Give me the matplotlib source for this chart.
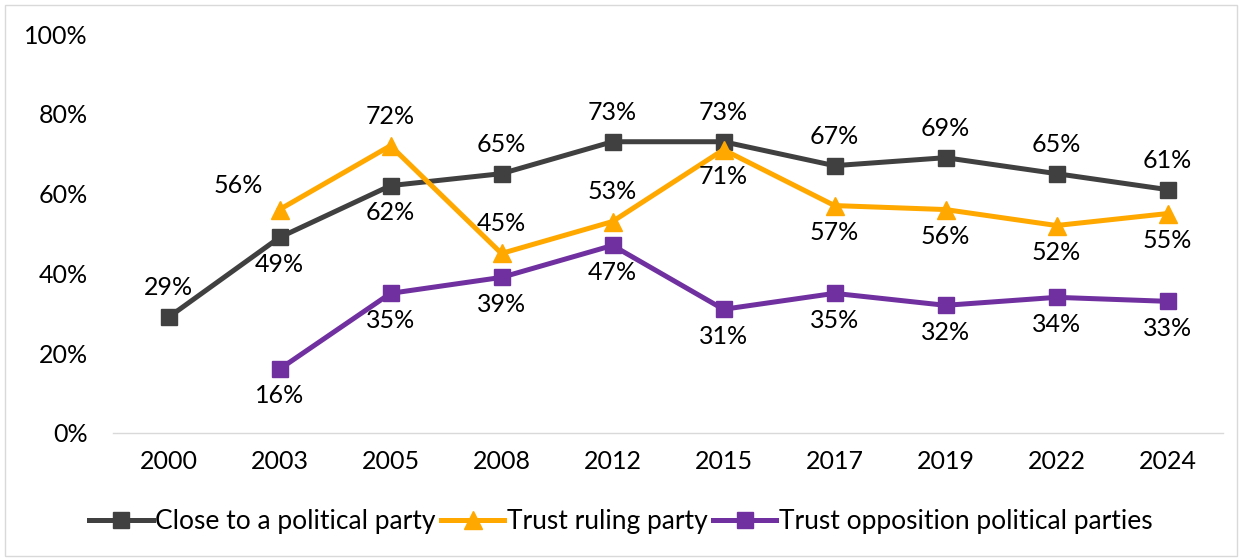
import numpy as np
import matplotlib.pyplot as plt

plt.rcParams['font.family'] = ['Lato', 'DejaVu Sans']

years = ['2000', '2003', '2005', '2008', '2012', '2015', '2017', '2019', '2022', '2024']
close_party = [29, 49, 62, 65, 73, 73, 67, 69, 65, 61]
trust_ruling = [None, 56, 72, 45, 53, 71, 57, 56, 52, 55]
trust_opposition = [None, 16, 35, 39, 47, 31, 35, 32, 34, 33]

# label placement: 'a' above, 'b' below, 'l' above-left
close_pos = ['a', 'b', 'b', 'a', 'a', 'a', 'a', 'a', 'a', 'a']
ruling_pos = [None, 'l', 'a', 'a', 'a', 'b', 'b', 'b', 'b', 'b']
opp_pos = [None, 'b', 'b', 'b', 'b', 'b', 'b', 'b', 'b', 'b']

FS = 18

fig = plt.figure(figsize=(12.42, 5.58), dpi=100)
ax = fig.add_axes([113 / 1242, 1 - 433 / 558, 1110 / 1242, 399 / 558])

x = np.arange(len(years))

def draw(vals, pos, color, marker, label, ms):
    xs = [i for i, v in enumerate(vals) if v is not None]
    ys = [v for v in vals if v is not None]
    ax.plot(xs, ys, color=color, lw=3.6, marker=marker, ms=ms, label=label,
            solid_joinstyle='miter')
    for i in xs:
        v = vals[i]
        p = pos[i]
        if p == 'a':
            ax.annotate(f'{v}%', (i, v), xytext=(0, 13), textcoords='offset points',
                        ha='center', va='bottom', fontsize=FS)
        elif p == 'b':
            ax.annotate(f'{v}%', (i, v), xytext=(0, -11), textcoords='offset points',
                        ha='center', va='top', fontsize=FS)
        else:
            ax.annotate(f'{v}%', (i, v), xytext=(-30, 9), textcoords='offset points',
                        ha='center', va='bottom', fontsize=FS)

draw(close_party, close_pos, '#404040', 's', 'Close to a political party', 12)
draw(trust_ruling, ruling_pos, '#FFA800', '^', 'Trust ruling party', 13)
draw(trust_opposition, opp_pos, '#7030A0', 's', 'Trust opposition political parties', 12)

ax.set_xlim(-0.5, len(years) - 0.5)
ax.set_ylim(0, 100)
ax.set_xticks(x)
ax.set_xticklabels(years, fontsize=FS)
ax.set_yticks(np.arange(0, 101, 20))
ax.set_yticklabels([f'{v}%' for v in range(0, 101, 20)], fontsize=FS)
ax.tick_params(length=0, pad=12)
ax.tick_params(axis='y', pad=18)
for s in ['top', 'right', 'left']:
    ax.spines[s].set_visible(False)
ax.spines['bottom'].set_color('#D9D9D9')
ax.spines['bottom'].set_linewidth(1)

fig.legend(loc='center', bbox_to_anchor=(0.5, 1 - 522 / 558), ncol=3, frameon=False,
           fontsize=19, handlelength=2.4, handletextpad=0.1, columnspacing=0.2)

border = plt.Rectangle((5 / 1242, 2 / 558), 1232 / 1242, 551 / 558, transform=fig.transFigure,
                       fill=False, edgecolor='#D9D9D9', lw=1)
fig.patches.append(border)

fig.savefig('out.png', dpi=100)
